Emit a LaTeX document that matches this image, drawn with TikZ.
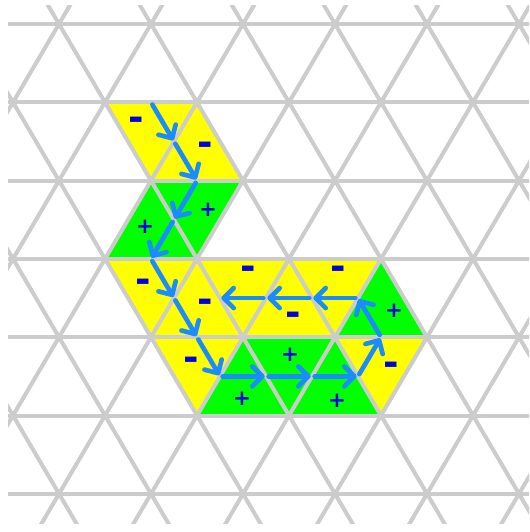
\documentclass[tikz,border=0pt]{standalone}
\usepackage{fontspec}
\newfontfamily\signfont{DejaVu Sans}
\usepackage{tikz}
\usetikzlibrary{
    arrows.meta,
    calc
}

\definecolor{gridgray}{HTML}{CCCCCC}
\definecolor{minusyellow}{HTML}{FFFF00}
\definecolor{plusgreen}{HTML}{00FF00}
\definecolor{flowblue}{HTML}{1A8CFF}
\definecolor{signblue}{HTML}{0000E0}

\begin{document}
\begin{tikzpicture}[x=0.75pt,y=-0.75pt,
    latticeline/.style={draw=gridgray,line width=3pt},
    negtri/.style={fill=minusyellow},
    postri/.style={fill=plusgreen},
    flow/.style={draw=flowblue,line width=3.5pt,line cap=round,
        -{Straight Barb[length=7.5pt,width=15pt,line width=3.5pt,round]},
        shorten <=2pt,shorten >=1pt},
    minuslabel/.style={text=signblue,inner sep=0pt,font=\signfont\bfseries\fontsize{28}{28}\selectfont},
    pluslabel/.style={text=signblue,inner sep=0pt,font=\signfont\bfseries\fontsize{16}{16}\selectfont}
]

\useasboundingbox (0,0) rectangle (529,532);

% Lattice points (row r, column k)
\foreach \r in {0,...,6}
  \foreach \k in {0,...,5}
    \coordinate (p\r\k) at ({13+46*mod(\r+1,2)+92*\k},{24+78.3*\r});

% Yellow triangles (-)
\path[negtri] (p11) -- (p12) -- (p21) -- cycle;
\path[negtri] (p12) -- (p21) -- (p22) -- cycle;
\path[negtri] (p31) -- (p32) -- (p41) -- cycle;
\path[negtri] (p32) -- (p41) -- (p42) -- cycle;
\path[negtri] (p32) -- (p33) -- (p42) -- cycle;
\path[negtri] (p33) -- (p42) -- (p43) -- cycle;
\path[negtri] (p33) -- (p34) -- (p43) -- cycle;
\path[negtri] (p41) -- (p42) -- (p52) -- cycle;
\path[negtri] (p43) -- (p44) -- (p54) -- cycle;

% Green triangles (+)
\path[postri] (p21) -- (p22) -- (p32) -- cycle;
\path[postri] (p21) -- (p31) -- (p32) -- cycle;
\path[postri] (p34) -- (p43) -- (p44) -- cycle;
\path[postri] (p42) -- (p52) -- (p53) -- cycle;
\path[postri] (p42) -- (p43) -- (p53) -- cycle;
\path[postri] (p43) -- (p53) -- (p54) -- cycle;

% Grid
\begin{scope}
  \clip (8,5) rectangle (529,523);
  \foreach \r in {0,...,6}
    \draw[latticeline] (0,{24+78.3*\r}) -- (540,{24+78.3*\r});
  \foreach \k in {-7,...,6}
    \draw[latticeline] ({13+92*\k},{24-78.3}) -- ({59+92*\k+46*7},{24+78.3*7});
  \foreach \k in {0,...,13}
    \draw[latticeline] ({105+92*\k},{24-78.3}) -- ({59+92*\k-46*7},{24+78.3*7});
\end{scope}

% Edge midpoints along the path
\coordinate (m0) at ($(p11)!0.5!(p12)$);
\coordinate (m1) at ($(p12)!0.5!(p21)$);
\coordinate (m2) at ($(p21)!0.5!(p22)$);
\coordinate (m3) at ($(p21)!0.5!(p32)$);
\coordinate (m4) at ($(p31)!0.5!(p32)$);
\coordinate (m5) at ($(p32)!0.5!(p41)$);
\coordinate (m6) at ($(p41)!0.5!(p42)$);
\coordinate (m7) at ($(p42)!0.5!(p52)$);
\coordinate (m8) at ($(p42)!0.5!(p53)$);
\coordinate (m9) at ($(p43)!0.5!(p53)$);
\coordinate (m10) at ($(p43)!0.5!(p54)$);
\coordinate (m11) at ($(p43)!0.5!(p44)$);
\coordinate (m12) at ($(p34)!0.5!(p43)$);
\coordinate (m13) at ($(p33)!0.5!(p43)$);
\coordinate (m14) at ($(p33)!0.5!(p42)$);
\coordinate (m15) at ($(p32)!0.5!(p42)$);

% Arrows
\foreach \i [evaluate=\i as \j using int(\i+1)] in {0,...,14}
  \draw[flow] (m\i) -- (m\j);

% Signs
\node[minuslabel] (s1) at (136,124) {-};
\node[minuslabel] (s2) at (205,149) {-};
\node[pluslabel] (s3) at (208,210) {+};
\node[pluslabel] (s4) at (145,227) {+};
\node[minuslabel] (s5) at (143,286) {-};
\node[minuslabel] (s6) at (205,306) {-};
\node[minuslabel] (s7) at (248,273) {-};
\node[minuslabel] (s8) at (293,319) {-};
\node[minuslabel] (s9) at (338,273) {-};
\node[pluslabel] (s10) at (394,311) {+};
\node[minuslabel] (s11) at (191,364) {-};
\node[pluslabel] (s12) at (242,399) {+};
\node[pluslabel] (s13) at (290,355) {+};
\node[pluslabel] (s14) at (337,401) {+};
\node[minuslabel] (s15) at (391,369) {-};

\end{tikzpicture}
\end{document}
